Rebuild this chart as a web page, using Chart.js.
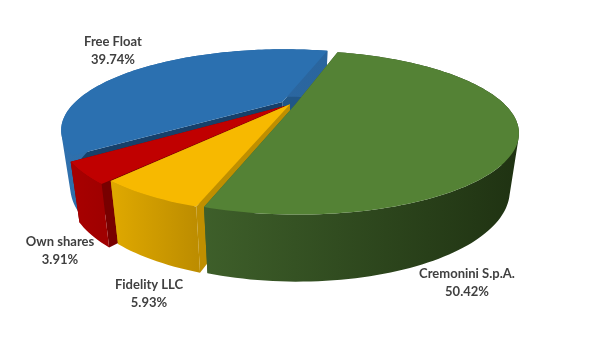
<!DOCTYPE html>
<html>
<head>
<meta charset="utf-8">
<title>Shareholders</title>
<script src="https://cdn.jsdelivr.net/npm/chart.js@4"></script>
<style>
    html, body { margin: 0; padding: 0; background: #fff; }
    #wrap { width: 613px; height: 353px; }
</style>
</head>
<body>
<div id="wrap"><canvas id="pieChart"></canvas></div>
<script>
// Shareholder structure, clockwise from the green slice
const holders = ['Cremonini S.p.A.', 'Fidelity LLC', 'Own shares', 'Free Float'];
const shares = [50.42, 5.93, 3.91, 39.74];
const shareLabels = ['50.42%', '5.93%', '3.91%', '39.74%'];

// look of each slice
const topColors = ['#548235', '#f7b900', '#c00000', '#2b70b0'];
const wallLeft = ['#3e5f2a', '#e0a900', '#a80000', '#2f70ad'];
const wallRight = ['#1f3212', '#bd8d00', '#a00000', '#2a659e'];
const cutStart = ['#3e5f2a', '#bf8f00', '#780000', '#17406a'];
const cutEnd = ['#3e5f2a', '#bf8f00', '#780000', '#215788'];
const sliceOffset = [5, 1, 8, 10];

// label centres, first line of the two
const labelAnchors = [[467, 274], [149, 285], [60, 242], [113, 42]];

// tilted view of the pie
const view = { rx: 209, ry: 72, persp: 0.342, depth: 57, depthGrow: 10, shrink: 0.96 };

function project(el, theta, r) {
    const off = el.options.offset / view.rx;
    const mid = (el.startAngle + el.endAngle) / 2 + Math.PI / 2;
    const u = Math.sin(mid) * off + Math.sin(theta) * r;
    const v = -Math.cos(mid) * off - Math.cos(theta) * r;
    const w = 1 - view.persp * v;
    return { x: el.x + view.rx * u / w, y: el.y + view.ry * v / w };
}

function dropDown(el, p) {
    return {
        x: el.x + (p.x - el.x) * view.shrink,
        y: p.y + view.depth + view.depthGrow * (p.y - el.y - 26) / 84
    };
}

function fillPoly(ctx, pts, fill) {
    ctx.beginPath();
    pts.forEach((p, i) => i ? ctx.lineTo(p.x, p.y) : ctx.moveTo(p.x, p.y));
    ctx.closePath();
    ctx.fillStyle = fill;
    ctx.fill();
}

// adds a quad to the current path, always wound the same way so overlaps stay filled
function addQuad(ctx, q) {
    let area = 0;
    q.forEach((p, i) => {
        const n = q[(i + 1) % 4];
        area += p.x * n.y - n.x * p.y;
    });
    const pts = area < 0 ? q.slice().reverse() : q;
    ctx.moveTo(pts[0].x, pts[0].y);
    pts.slice(1).forEach(p => ctx.lineTo(p.x, p.y));
    ctx.closePath();
}

function drawSlice(ctx, el, i) {
    const a0 = el.startAngle + Math.PI / 2;
    const a1 = el.endAngle + Math.PI / 2;
    const rim = [];
    const steps = Math.ceil((a1 - a0) * 40);
    for (let s = 0; s <= steps; s++) {
        rim.push(project(el, a0 + (a1 - a0) * s / steps, 1));
    }
    const apex = project(el, a0, 0);
    const rimLow = rim.map(p => dropDown(el, p));
    const apexLow = dropDown(el, apex);

    fillPoly(ctx, [apex, rim[rim.length - 1], rimLow[rimLow.length - 1], apexLow], cutEnd[i]);
    fillPoly(ctx, [apex, rim[0], rimLow[0], apexLow], cutStart[i]);

    // wall as strips in one path, so the curved sides sweep the whole silhouette
    const xs = rim.map(p => p.x);
    const grad = ctx.createLinearGradient(Math.min(...xs), 0, Math.max(...xs), 0);
    grad.addColorStop(0, wallLeft[i]);
    grad.addColorStop(1, wallRight[i]);
    ctx.beginPath();
    for (let s = 0; s < steps; s++) {
        addQuad(ctx, [rim[s], rim[s + 1], rimLow[s + 1], rimLow[s]]);
    }
    ctx.fillStyle = grad;
    ctx.fill();

    fillPoly(ctx, [apex].concat(rim), topColors[i]);
}

const pie3d = {
    id: 'pie3d',
    beforeDatasetDraw(chart, args) {
        const ctx = chart.ctx;
        const arcs = args.meta.data;
        ctx.save();
        // back to front
        for (let i = arcs.length - 1; i >= 0; i--) {
            drawSlice(ctx, arcs[i], i);
        }
        ctx.restore();
        return false;
    },
    afterDatasetsDraw(chart) {
        const ctx = chart.ctx;
        ctx.save();
        ctx.font = 'bold 13px Lato';
        ctx.fillStyle = '#404040';
        ctx.textAlign = 'center';
        ctx.textBaseline = 'middle';
        holders.forEach((name, i) => {
            ctx.fillText(name, labelAnchors[i][0], labelAnchors[i][1]);
            ctx.fillText(shareLabels[i], labelAnchors[i][0], labelAnchors[i][1] + 18);
        });
        ctx.restore();
    }
};

document.addEventListener('DOMContentLoaded', () => {
    new Chart(document.getElementById('pieChart'), {
        type: 'pie',
        data: {
            labels: holders,
            datasets: [{
                data: shares,
                backgroundColor: topColors,
                offset: sliceOffset,
                borderWidth: 0
            }]
        },
        options: {
            responsive: true,
            maintainAspectRatio: false,
            animation: false,
            rotation: 16,
            layout: { padding: { right: 32, bottom: 145 } },
            plugins: {
                legend: { display: false },
                tooltip: { enabled: false }
            }
        },
        plugins: [pie3d]
    });
});
</script>
</body>
</html>
